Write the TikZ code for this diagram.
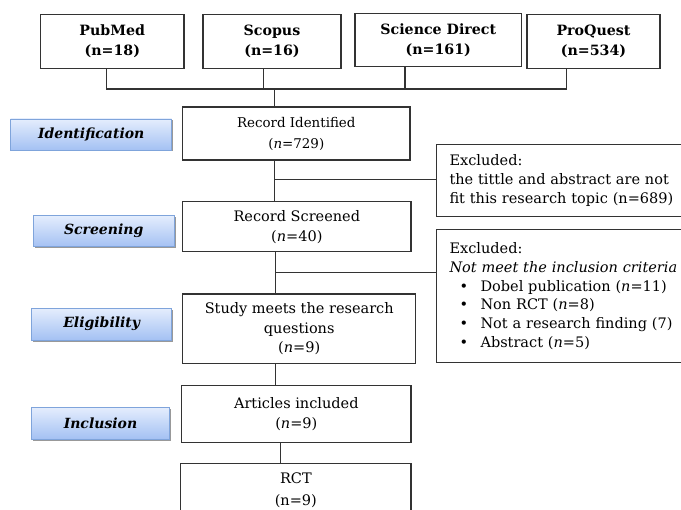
\documentclass[tikz,border=0pt]{standalone}
\usepackage{fontspec}
\setmainfont{DejaVu Serif}
\usetikzlibrary{shadows}
\definecolor{lineclr}{HTML}{333333}
\definecolor{lbltop}{HTML}{E4EDFD}
\definecolor{lblbot}{HTML}{A4C1F3}
\definecolor{lblborder}{HTML}{7FA4DB}
\begin{document}
\begin{tikzpicture}[x=1pt,y=-1pt,
  box/.style={draw=lineclr, line width=1.1pt, rectangle, inner sep=0pt, align=center,
    font=\fontsize{14.5}{20}\selectfont},
  src/.style={box, font=\bfseries\fontsize{14.2}{20}\selectfont},
  exbox/.style={draw=lineclr, line width=1.1pt, rectangle, inner xsep=13pt, inner ysep=0pt,
    align=left, anchor=north west, font=\fontsize{14.5}{18.8}\selectfont},
  stage/.style={draw=lblborder, line width=0.9pt, top color=lbltop, bottom color=lblbot,
    inner sep=0pt, font=\bfseries\itshape\fontsize{14}{16}\selectfont,
    drop shadow={shadow xshift=1.5pt, shadow yshift=-1.5pt, fill=black!40, opacity=1}},
  link/.style={draw=lineclr, line width=1.1pt}
]
\useasboundingbox (0,0) rectangle (681,510);

% source boxes
\node[src, minimum width=143.3pt, minimum height=54pt] (pub) at (112.3,41.3) {PubMed\\(n=18)};
\node[src, minimum width=138pt, minimum height=54pt] (sco) at (272,41.3) {Scopus\\(n=16)};
\node[src, minimum width=166.7pt, minimum height=52.7pt] (sd) at (438.3,40.3) {Science Direct\\(n=161)};
\node[src, minimum width=133pt, minimum height=54pt] (pq) at (593.5,41.3) {ProQuest\\(n=534)};

% main flow boxes
\node[box, minimum width=227.3pt, minimum height=53pt, font=\fontsize{13.4}{21}\selectfont] (ri) at (296.3,133.5) {Record Identified\\(\textit{n}=729)};
\node[box, minimum width=228.3pt, minimum height=50pt] (rs) at (296.8,226.7) {Record Screened\\(\textit{n}=40)};
\node[box, minimum width=233pt, minimum height=69.3pt, font=\fontsize{14.5}{19.5}\selectfont] (sm) at (299.2,328.7) {Study meets the research\\questions\\(\textit{n}=9)};
\node[box, minimum width=229.3pt, minimum height=56.6pt] (ai) at (296.3,414) {Articles included\\(\textit{n}=9)};
\node[box, minimum width=230.3pt, minimum height=54pt, font=\fontsize{14.5}{22}\selectfont] (rct) at (295.85,490.3) {RCT\\(n=9)};

% excluded boxes
\node[exbox, minimum width=256pt, minimum height=72pt, text width=230pt] (ex1) at (436,144)
  {Excluded:\\the tittle and abstract are not\\fit this research topic (n=689)};
\node[exbox, minimum width=256pt, minimum height=132.7pt, text width=230pt] (ex2) at (436,229.3)
  {Excluded:\\\textit{Not meet the inclusion criteria}\\
   \hspace*{10pt}\makebox[21pt][l]{\textbullet}Dobel publication (\textit{n}=11)\\
   \hspace*{10pt}\makebox[21pt][l]{\textbullet}Non RCT (\textit{n}=8)\\
   \hspace*{10pt}\makebox[21pt][l]{\textbullet}Not a research finding (7)\\
   \hspace*{10pt}\makebox[21pt][l]{\textbullet}Abstract (\textit{n}=5)};

% stage labels
\node[stage, minimum width=161pt, minimum height=31pt] (lid) at (91.2,134.5) {Identification};
\node[stage, minimum width=140.7pt, minimum height=31pt] (lsc) at (103.7,231.2) {Screening};
\node[stage, minimum width=140pt, minimum height=31.7pt] (lel) at (101.7,324.2) {Eligibility};
\node[stage, minimum width=137.6pt, minimum height=31.7pt] (lin) at (100.5,423.2) {Inclusion};

% connectors
\coordinate (c1) at (106.7,89);
\coordinate (c2) at (263.3,89);
\coordinate (c3) at (405,89);
\coordinate (c4) at (566.7,89);
\coordinate (cm) at (274.3,89);
\coordinate (b1) at (274.3,179.3);
\coordinate (cm2) at (275.7,272.7);
\coordinate (cm3) at (280.7,452);

\draw[link] (pub.south -| c1) -- (c1) -- (c4) -- (pq.south -| c4);
\draw[link] (sco.south -| c2) -- (c2);
\draw[link] (sd.south -| c3) -- (c3);
\draw[link] (cm) -- (ri.north -| cm);
\draw[link] (ri.south -| cm) -- (rs.north -| cm);
\draw[link] (b1) -- (b1 -| ex1.west);
\draw[link] (rs.south -| cm2) -- (sm.north -| cm2);
\draw[link] (cm2) -- (cm2 -| ex2.west);
\draw[link] (sm.south -| cm2) -- (ai.north -| cm2);
\draw[link] (ai.south -| cm3) -- (rct.north -| cm3);
\end{tikzpicture}
\end{document}
